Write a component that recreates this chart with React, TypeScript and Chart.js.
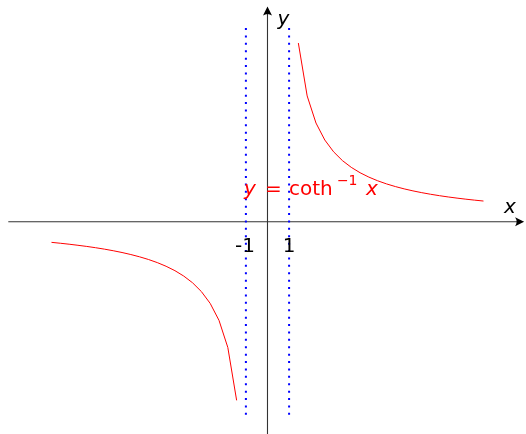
import React, { useEffect, useRef } from "react";
import { Chart, registerables } from "chart.js";

Chart.register(...registerables);

// Right branch of y = arccoth(x), x > 1
const rightX = [10, 9.5918, 9.1837, 8.7755, 8.3673, 7.9592, 7.551, 7.1429, 6.7347, 6.3265, 5.9184, 5.5102, 5.102, 4.6939, 4.2857, 3.8776, 3.4694, 3.0612, 2.6531, 2.2449, 1.8367, 1.4286];
const rightY = [0.1003, 0.1046, 0.1093, 0.1145, 0.1201, 0.1263, 0.1332, 0.1409, 0.1496, 0.1594, 0.1706, 0.1835, 0.1986, 0.2164, 0.2377, 0.2639, 0.2966, 0.3391, 0.3965, 0.479, 0.6105, 0.8673];
// Left branch, x < -1
const leftX = [-10, -9.5918, -9.1837, -8.7755, -8.3673, -7.9592, -7.551, -7.1429, -6.7347, -6.3265, -5.9184, -5.5102, -5.102, -4.6939, -4.2857, -3.8776, -3.4694, -3.0612, -2.6531, -2.2449, -1.8367, -1.4286];
const leftY = [-0.1003, -0.1046, -0.1093, -0.1145, -0.1201, -0.1263, -0.1332, -0.1409, -0.1496, -0.1594, -0.1706, -0.1835, -0.1986, -0.2164, -0.2377, -0.2639, -0.2966, -0.3391, -0.3965, -0.479, -0.6105, -0.8673];

// Asymptotes
const asymptoteX = [-1, 1];
const asymptoteSpan = [0.94, -0.94];

// Tick labels
const xTicks = [-1, 1];
const xTickLabels = ["-1", "1"];

// Axis extents
const xView = [-12.384, 11.968];
const yView = [-1.0306, 1.0762];
const xAxisExtent = [-12.0, 11.88];
const yAxisExtent = [-1.04, 1.045];

const FONT = '"DejaVu Sans", sans-serif';

function arrow(ctx: CanvasRenderingContext2D, x: number, y: number, dir: "right" | "up") {
  ctx.save();
  ctx.translate(x, y);
  if (dir === "up") ctx.rotate(-Math.PI / 2);
  ctx.beginPath();
  ctx.moveTo(0, 0);
  ctx.lineTo(-9, -4.5);
  ctx.quadraticCurveTo(-6, 0, -9, 4.5);
  ctx.closePath();
  ctx.fillStyle = "#000";
  ctx.fill();
  ctx.restore();
}

const axesPlugin = {
  id: "axesPlugin",
  beforeDatasetsDraw(chart: any) {
    const ctx: CanvasRenderingContext2D = chart.ctx;
    const xs = chart.scales.x;
    const ys = chart.scales.y;
    const x0 = xs.getPixelForValue(0);
    const y0 = ys.getPixelForValue(0);
    ctx.save();
    ctx.strokeStyle = "#333";
    ctx.lineWidth = 1.1;
    // x axis
    const xa = xs.getPixelForValue(xAxisExtent[0]);
    const xb = xs.getPixelForValue(xAxisExtent[1]);
    ctx.beginPath();
    ctx.moveTo(xa, y0);
    ctx.lineTo(xb - 4, y0);
    ctx.stroke();
    arrow(ctx, xb, y0, "right");
    // y axis
    const ya = ys.getPixelForValue(yAxisExtent[0]);
    const yb = ys.getPixelForValue(yAxisExtent[1]);
    ctx.beginPath();
    ctx.moveTo(x0, ya);
    ctx.lineTo(x0, yb + 4);
    ctx.stroke();
    arrow(ctx, x0, yb, "up");
    ctx.restore();
  },
  afterDatasetsDraw(chart: any) {
    const ctx: CanvasRenderingContext2D = chart.ctx;
    const xs = chart.scales.x;
    const ys = chart.scales.y;
    const x0 = xs.getPixelForValue(0);
    const y0 = ys.getPixelForValue(0);
    ctx.save();
    ctx.fillStyle = "#000";
    ctx.textBaseline = "alphabetic";
    ctx.textAlign = "center";
    ctx.font = `20px ${FONT}`;
    xTicks.forEach((t, i) => {
      ctx.fillText(xTickLabels[i], xs.getPixelForValue(t) - (t < 0 ? 1 : 0), y0 + 30);
    });
    // axis labels
    ctx.font = `italic 20px ${FONT}`;
    ctx.textAlign = "left";
    ctx.fillText("x", xs.getPixelForValue(xAxisExtent[1]) - 20, y0 - 9);
    ctx.fillText("y", x0 + 10, ys.getPixelForValue(yAxisExtent[1]) + 19);

    // function label
    const lx = xs.getPixelForValue(-1) - 2;
    const ly = ys.getPixelForValue(0) - 27;
    ctx.fillStyle = "#ff0000";
    ctx.font = `italic 20px ${FONT}`;
    ctx.fillText("y", lx, ly);
    ctx.font = `20px ${FONT}`;
    ctx.fillText("=", lx + 21, ly);
    ctx.fillText("coth", lx + 45, ly);
    ctx.font = `14px ${FONT}`;
    ctx.fillText("\u22121", lx + 93, ly - 10);
    ctx.font = `italic 20px ${FONT}`;
    ctx.fillText("x", lx + 122, ly);
    ctx.restore();
  },
};

export default function App() {
  const ref = useRef<HTMLCanvasElement>(null);
  useEffect(() => {
    if (!ref.current) return;
    const toPts = (xsArr: number[], ysArr: number[]) => xsArr.map((x, i) => ({ x, y: ysArr[i] }));
    const asymDatasets = asymptoteX.map((ax) => ({
      data: asymptoteSpan.map((y) => ({ x: ax, y })),
      borderColor: "#0000ff",
      borderWidth: 2,
      borderDash: [2, 5.4],
      borderCapStyle: "butt" as const,
      showLine: true,
      pointRadius: 0,
      fill: false,
    }));
    const chart = new Chart(ref.current, {
      type: "scatter",
      data: {
        datasets: [
          {
            data: toPts(rightX, rightY),
            borderColor: "#ff0000",
            borderWidth: 1,
            showLine: true,
            pointRadius: 0,
            tension: 0,
            fill: false,
          },
          {
            data: toPts(leftX, leftY),
            borderColor: "#ff0000",
            borderWidth: 1,
            showLine: true,
            pointRadius: 0,
            tension: 0,
            fill: false,
          },
          ...asymDatasets,
        ],
      },
      options: {
        responsive: false,
        animation: false,
        layout: { padding: 0 },
        plugins: { legend: { display: false }, tooltip: { enabled: false } },
        events: [],
        scales: {
          x: { type: "linear", min: xView[0], max: xView[1], display: false },
          y: { type: "linear", min: yView[0], max: yView[1], display: false },
        },
      },
      plugins: [axesPlugin],
    });
    return () => chart.destroy();
  }, []);
  return (
    <div style={{ position: "fixed", left: 0, top: 0, width: 526, height: 434, background: "#fff" }}>
      <canvas ref={ref} width={526} height={434} style={{ display: "block" }} />
    </div>
  );
}
